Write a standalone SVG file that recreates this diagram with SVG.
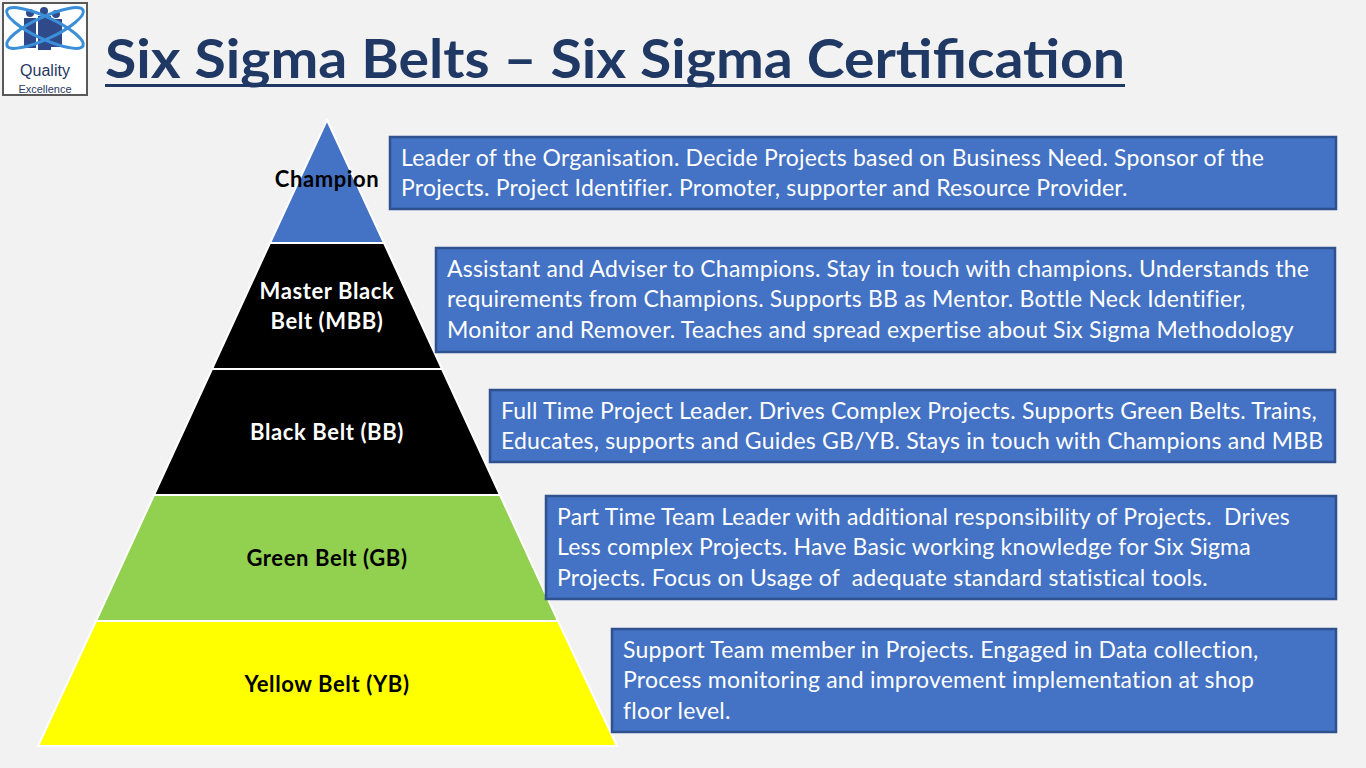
<svg xmlns="http://www.w3.org/2000/svg" width="1366" height="768" viewBox="0 0 1366 768">
<style>
.bx{fill:#4472C4;stroke:#2F528F;stroke-width:2.5}
.bt{font-family:Lato,"Open Sans",sans-serif;font-size:23px;fill:#fff;letter-spacing:0.2px}
.lv{font-family:Lato,"Open Sans",sans-serif;font-size:22px;font-weight:bold;text-anchor:middle;letter-spacing:0.6px}
.tier{stroke:#fff;stroke-width:2}
</style>
<rect width="1366" height="768" fill="#F2F2F2"/>
<g id="logo">
<rect x="3" y="3" width="84" height="92" fill="#fff" stroke="#595959" stroke-width="2"/>
<g fill="#2F4A8A">
<circle cx="30" cy="13" r="4"/><circle cx="44" cy="11" r="4"/><circle cx="56" cy="14" r="4"/>
<path d="M24 18h12v30h-12z M38 16h13v34h-13z M51 19h11v28h-11z"/>
</g>
<ellipse cx="45" cy="28" rx="42" ry="11" transform="rotate(25 45 28)" fill="none" stroke="#3A8FD8" stroke-width="3"/>
<ellipse cx="45" cy="28" rx="42" ry="11" transform="rotate(-25 45 28)" fill="none" stroke="#3A8FD8" stroke-width="3"/>
<text x="45" y="76" font-family="Liberation Sans,sans-serif" font-size="16" fill="#1F3864" text-anchor="middle">Quality</text>
<text x="45" y="93" font-family="Liberation Sans,sans-serif" font-size="11" fill="#1F3864" text-anchor="middle">Excellence</text>
</g>
<g id="title">
<text x="105" y="78" font-family="Lato,'Open Sans',sans-serif" font-size="54" font-weight="bold" fill="#203864" textLength="1020" lengthAdjust="spacingAndGlyphs">Six Sigma Belts – Six Sigma Certification</text>
<rect x="105" y="84" width="1020" height="3" fill="#203864"/>
</g>
<g id="pyramid">
<g id="champion"><polygon class="tier" points="327,120 384,243 270,243" fill="#4472C4"/><text class="lv" x="327" y="187" fill="#000">Champion</text></g>
<g id="mbb"><polygon class="tier" points="270,243 384,243 442,369 212,369" fill="#000"/><text class="lv" x="327" y="299" fill="#fff">Master Black</text><text class="lv" x="327" y="329" fill="#fff">Belt (MBB)</text></g>
<g id="bb"><polygon class="tier" points="212,369 442,369 500,495 154,495" fill="#000"/><text class="lv" x="327" y="440" fill="#fff">Black Belt (BB)</text></g>
<g id="gb"><polygon class="tier" points="154,495 500,495 558,621 96,621" fill="#92D050"/><text class="lv" x="327" y="566" fill="#000">Green Belt (GB)</text></g>
<g id="yb"><polygon class="tier" points="96,621 558,621 617,746 38,746" fill="#FFFF00"/><text class="lv" x="327" y="692" fill="#000">Yellow Belt (YB)</text></g>
</g>
<g id="box1"><rect class="bx" x="390" y="137" width="946" height="72"/>
<text class="bt" x="401" y="166">Leader of the Organisation. Decide Projects based on Business Need. Sponsor of the</text>
<text class="bt" x="401" y="196">Projects. Project Identifier. Promoter, supporter and Resource Provider.</text></g>
<g id="box2"><rect class="bx" x="436" y="248" width="899" height="104"/>
<text class="bt" x="447" y="277">Assistant and Adviser to Champions. Stay in touch with champions. Understands the</text>
<text class="bt" x="447" y="307">requirements from Champions. Supports BB as Mentor. Bottle Neck Identifier,</text>
<text class="bt" x="447" y="338">Monitor and Remover. Teaches and spread expertise about Six Sigma Methodology</text></g>
<g id="box3"><rect class="bx" x="490" y="390" width="845" height="72"/>
<text class="bt" x="501" y="419">Full Time Project Leader. Drives Complex Projects. Supports Green Belts. Trains,</text>
<text class="bt" x="501" y="449">Educates, supports and Guides GB/YB. Stays in touch with Champions and MBB</text></g>
<g id="box4"><rect class="bx" x="546" y="496" width="790" height="103"/>
<text class="bt" x="557" y="525" xml:space="preserve">Part Time Team Leader with additional responsibility of Projects.  Drives</text>
<text class="bt" x="557" y="555">Less complex Projects. Have Basic working knowledge for Six Sigma</text>
<text class="bt" x="557" y="586" xml:space="preserve">Projects. Focus on Usage of  adequate standard statistical tools.</text></g>
<g id="box5"><rect class="bx" x="612" y="629" width="724" height="103"/>
<text class="bt" x="623" y="658">Support Team member in Projects. Engaged in Data collection,</text>
<text class="bt" x="623" y="688">Process monitoring and improvement implementation at shop</text>
<text class="bt" x="623" y="719">floor level.</text></g>
</svg>
